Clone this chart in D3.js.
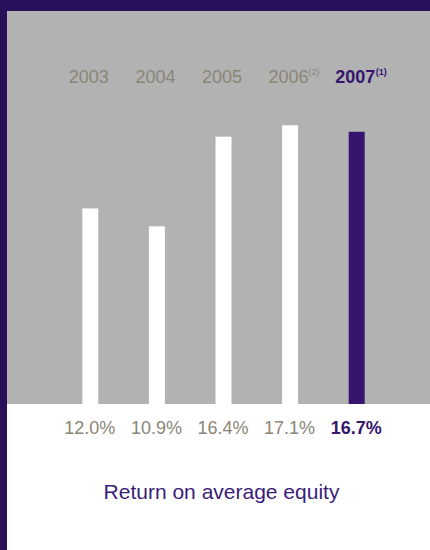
<!DOCTYPE html>
<html>
<head>
<meta charset="utf-8">
<script src="https://cdn.jsdelivr.net/npm/d3@7"></script>
<style>
  html, body { margin: 0; padding: 0; background: #ffffff; }
  svg { display: block; }
</style>
</head>
<body>
<script>
const years = ["2003", "2004", "2005", "2006", "2007"];
const notes = ["", "", "", "(2)", "(1)"];
const values = [12.0, 10.9, 16.4, 17.1, 16.7];
const valueLabels = ["12.0%", "10.9%", "16.4%", "17.1%", "16.7%"];
const title = "Return on average equity";

const W = 430, H = 550;
const purpleDark = "#28105a";
const purpleBar = "#36156e";
const grayBg = "#b2b2b2";
const grayText = "#8a8576";
const font = "'Liberation Sans', Arial, Helvetica, sans-serif";

const svg = d3.select("body").append("svg").attr("width", W).attr("height", H);

// frame
svg.append("rect").attr("x", 0).attr("y", 0).attr("width", W).attr("height", H).attr("fill", "#ffffff");
svg.append("rect").attr("x", 0).attr("y", 0).attr("width", W).attr("height", 11).attr("fill", purpleDark);
svg.append("rect").attr("x", 0).attr("y", 0).attr("width", 7).attr("height", H).attr("fill", purpleDark);

const baseY = 404;
svg.append("rect").attr("x", 7).attr("y", 11).attr("width", W - 7).attr("height", baseY - 11).attr("fill", grayBg);

const x = d3.scaleBand().domain(years).range([57, 390]).paddingInner(0.76).paddingOuter(0.38);
const y = d3.scaleLinear().domain([0, 20]).range([baseY, baseY - 326]);

const last = years.length - 1;

svg.append("g").selectAll("rect").data(years).join("rect")
  .attr("x", d => x(d))
  .attr("width", x.bandwidth())
  .attr("y", (d, i) => y(values[i]))
  .attr("height", (d, i) => y(0) - y(values[i]))
  .attr("fill", (d, i) => i === last ? purpleBar : "#ffffff");

// year labels
svg.append("g").selectAll("text").data(years).join("text")
  .attr("x", d => x(d) + x.bandwidth() / 2 - 1.5)
  .attr("y", 83)
  .attr("font-family", font)
  .attr("font-size", 18)
  .attr("font-weight", (d, i) => i === last ? "bold" : "normal")
  .attr("fill", (d, i) => i === last ? purpleBar : grayText)
  .attr("text-anchor", "middle")
  .text(d => d);
// superscripts
svg.append("g").selectAll("text").data(years).join("text")
  .attr("x", function(d, i) {
    const cx = x(d) + x.bandwidth() / 2 - 1.5;
    return cx + (i === last ? 20.5 : 20);
  })
  .attr("y", 75)
  .attr("font-family", font)
  .attr("font-size", 9)
  .attr("font-weight", (d, i) => i === last ? "bold" : "normal")
  .attr("fill", (d, i) => i === last ? purpleBar : grayText)
  .text((d, i) => notes[i]);

// value labels
svg.append("g").selectAll("text").data(years).join("text")
  .attr("x", d => x(d) + x.bandwidth() / 2 - 0.5)
  .attr("y", 434)
  .attr("text-anchor", "middle")
  .attr("font-family", font)
  .attr("font-size", 18)
  .attr("font-weight", (d, i) => i === last ? "bold" : "normal")
  .attr("fill", (d, i) => i === last ? purpleBar : grayText)
  .text((d, i) => valueLabels[i]);

svg.append("text")
  .attr("x", 221.5)
  .attr("y", 499)
  .attr("text-anchor", "middle")
  .attr("font-family", font)
  .attr("font-size", 21)
  .attr("fill", "#3a1d78")
  .text(title);
</script>
</body>
</html>
